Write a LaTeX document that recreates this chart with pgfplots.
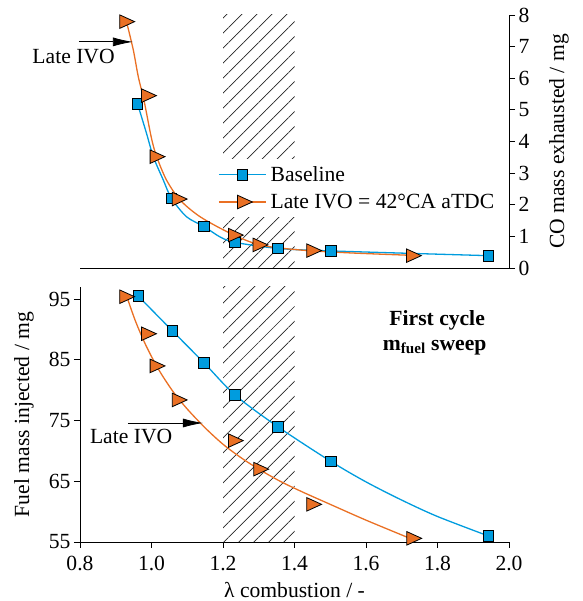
\documentclass[border=0pt]{standalone}
\usepackage{fontspec}
\setmainfont{Liberation Serif}
\usepackage{pgfplots}
\pgfplotsset{compat=1.18}
\usetikzlibrary{patterns.meta,arrows.meta}

\definecolor{cblue}{RGB}{0,156,222}
\definecolor{corange}{RGB}{234,112,36}

\tikzset{
  hatch/.style={pattern={Lines[angle=45,distance=10.6pt,line width=0.7pt]}, pattern color=black!85},
}

\pgfplotsset{
  common/.style={
    scale only axis,
    width=429pt,
    xmin=0.8, xmax=2.0,
    tick align=outside,
    major tick length=6pt,
    axis line style={line width=0.8pt, black},
    tick style={line width=0.8pt, black},
    /pgf/number format/assume math mode=true,
    font=\fontsize{21.6}{26}\selectfont,
  },
  blueline/.style={
    color=cblue, line width=1.3pt, mark=square*, mark size=5.3pt,
    mark options={fill=cblue, draw=black, line width=0.8pt},
  },
  orangeline/.style={
    color=corange, line width=1.3pt, mark=triangle*, mark size=7.8pt,
    mark options={fill=corange, draw=black, line width=0.8pt, rotate=-90, yscale=1.27},
  },
}

\begin{document}
\begin{tikzpicture}
\useasboundingbox (0,0) rectangle (582pt,601pt);

% ---------------- lower panel: injected fuel mass ----------------
\begin{axis}[
  common,
  at={(80pt,59pt)}, anchor=south west,
  height=255pt,
  ymin=55, ymax=97,
  axis x line*=bottom, axis y line*=left,
  xtick={0.8,1.0,1.2,1.4,1.6,1.8,2.0},
  xticklabel style={yshift=-5pt, /pgf/number format/.cd, fixed, fixed zerofill, precision=1},
  ytick={55,65,75,85,95},
  xlabel={λ combustion / -},
  xlabel style={at={(axis description cs:0.5,0)}, anchor=base, yshift=-55pt},
  ylabel={Fuel mass injected / mg},
  ylabel style={at={([xshift=-56pt]axis description cs:0,0.5)}, anchor=center},
  clip=false,
]
\fill[hatch] (axis cs:1.2,55) rectangle (axis cs:1.4,97);

% baseline sweep
\addplot[cblue, line width=1.3pt, smooth] coordinates {
  (0.963,95.5) (1.058,89.8) (1.147,84.5) (1.234,79.2)
  (1.353,74.0) (1.501,68.3) (1.60,64.9) (1.70,61.9) (1.80,59.2) (1.942,56.0)
};
\addplot[blueline, only marks] coordinates {
  (0.963,95.5) (1.058,89.8) (1.147,84.5) (1.234,79.2)
  (1.353,74.0) (1.501,68.3) (1.942,56.0)
};

% late IVO: fitted trend
\addplot[corange, line width=1.3pt, smooth] coordinates {
  (0.930,95.6) (0.955,91.4) (0.985,87.3) (1.02,83.4) (1.06,79.8)
  (1.10,76.9) (1.15,73.8) (1.20,71.1) (1.25,68.9) (1.30,67.0)
  (1.36,65.0) (1.42,63.3) (1.50,61.2) (1.60,58.6) (1.723,55.6)
};
% late IVO: measured points
\addplot[orangeline, only marks] coordinates {
  (0.925,95.4) (0.986,89.3) (1.010,84.0) (1.072,78.4)
  (1.229,71.7) (1.300,67.0) (1.448,61.2) (1.728,55.6)
};

\draw[line width=0.8pt, -{Latex[length=20pt,width=9pt]}]
  (axis cs:0.934,74.6) -- (axis cs:1.144,74.6);
\node[anchor=center] at (axis cs:0.943,72.45) {Late IVO};

\node[anchor=base] at (axis cs:1.799,90.72) {\textbf{First cycle}};
\node[anchor=base] at (axis cs:1.792,86.6) {\textbf{m\textsubscript{fuel} sweep}};
\end{axis}

% ---------------- upper panel: exhausted CO mass ----------------
\begin{axis}[
  common,
  at={(80pt,333pt)}, anchor=south west,
  height=253pt,
  ymin=0, ymax=8,
  axis x line*=bottom, axis y line*=right,
  xtick=\empty,
  ytick={0,1,...,8},
  ylabel={CO mass exhausted / mg},
  ylabel style={at={([xshift=50pt]axis description cs:1,0.5)}, anchor=center},
  clip=false,
  legend style={
    at={(axis cs:1.178,3.45)}, anchor=north west,
    draw=none, fill=white,
    nodes={inner ysep=5.5pt, inner xsep=4pt},
    cells={anchor=west},
  },
  legend image code/.code={
    \draw[mark repeat=2, mark phase=2, #1]
      plot coordinates {(0pt,0pt) (23.5pt,0pt) (47pt,0pt)};
  },
]
\fill[hatch] (axis cs:1.2,0) rectangle (axis cs:1.4,8);

% baseline sweep
\addplot[cblue, line width=1.3pt, smooth, forget plot] coordinates {
  (0.961,5.19) (0.986,4.26) (1.005,3.52) (1.033,2.78)
  (1.056,2.20) (1.098,1.62) (1.147,1.31) (1.192,0.98) (1.234,0.81)
  (1.353,0.62) (1.501,0.54) (1.942,0.39)
};
\addplot[blueline, only marks, forget plot] coordinates {
  (0.961,5.19) (1.056,2.20) (1.147,1.31) (1.234,0.81)
  (1.353,0.62) (1.501,0.54) (1.942,0.39)
};

% late IVO sweep
\addplot[corange, line width=1.3pt, smooth, forget plot] coordinates {
  (0.930,7.79) (0.949,6.90) (0.963,6.05) (0.979,5.30)
  (1.000,4.10) (1.0145,3.52) (1.042,2.78) (1.080,2.15) (1.136,1.62)
  (1.220,1.10) (1.303,0.73) (1.415,0.57) (1.550,0.48) (1.727,0.40)
};
\addplot[orangeline, only marks, forget plot] coordinates {
  (0.925,7.79) (0.986,5.45) (1.010,3.52) (1.072,2.18)
  (1.229,1.04) (1.298,0.73) (1.448,0.55) (1.727,0.39)
};

\addlegendimage{blueline}
\addlegendentry{Baseline}
\addlegendimage{orangeline}
\addlegendentry{Late IVO = 42°CA aTDC}

\draw[line width=0.8pt, -{Latex[length=20pt,width=9pt]}]
  (axis cs:0.797,7.15) -- (axis cs:0.948,7.15);
\node[anchor=center] at (axis cs:0.782,6.69) {Late IVO};
\end{axis}
\end{tikzpicture}
\end{document}
